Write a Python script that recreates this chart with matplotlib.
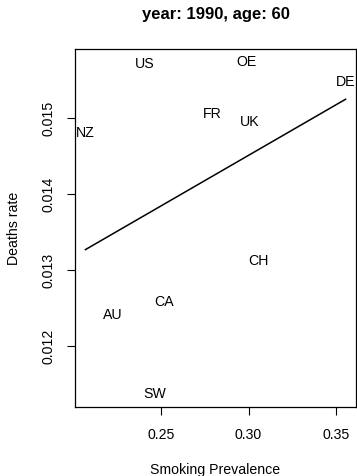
import numpy as np
import matplotlib
matplotlib.use("Agg")
import matplotlib.pyplot as plt

plt.rcParams['font.family'] = ['Liberation Sans', 'DejaVu Sans']

# country codes and their values
countries = ["US", "OE", "DE", "FR", "UK", "NZ", "CH", "CA", "AU", "SW"]
smoking = [0.2407, 0.2989, 0.3553, 0.2791, 0.3006, 0.2071, 0.3055, 0.2519, 0.2226, 0.2464]
deaths = [0.015714, 0.015737, 0.015474, 0.015053, 0.014947, 0.014803,
          0.013128, 0.012579, 0.012412, 0.011375]

x = np.array(smoking)
y = np.array(deaths)

fig = plt.figure(figsize=(3.57, 4.76), dpi=100)
ax = fig.add_axes([75 / 357, 1 - 407 / 476, 281 / 357, 358 / 476])

fs = 10.2
for name, xi, yi in zip(countries, x, y):
    ax.text(xi, yi, name, ha="center", va="center", fontsize=fs)

# least squares line across the data range
slope, icept = np.polyfit(x, y, 1)
xs = np.array([x.min(), x.max()])
ax.plot(xs, icept + slope * xs, color="black", lw=1.1)

# R style 4% padding
dx = (x.max() - x.min()) * 0.04
dy = (y.max() - y.min()) * 0.04
ax.set_xlim(x.min() - dx, x.max() + dx)
ax.set_ylim(y.min() - dy, y.max() + dy)

ax.set_xticks([0.25, 0.30, 0.35])
ax.set_xticklabels(["0.25", "0.30", "0.35"])
ax.set_yticks([0.012, 0.013, 0.014, 0.015])
ax.set_yticklabels(["0.012", "0.013", "0.014", "0.015"], rotation=90, va="center")
ax.tick_params(labelsize=fs, length=6, width=0.8)
ax.tick_params(axis="x", pad=9)
ax.tick_params(axis="y", pad=8)
for s in ax.spines.values():
    s.set_linewidth(0.9)

ax.set_xlabel("Smoking Prevalence", fontsize=fs, labelpad=15)
ax.set_ylabel("Deaths rate", fontsize=fs, labelpad=15)
fig.text(216 / 357, 1 - 15 / 476, "year: 1990, age: 60", ha="center", va="center",
         fontsize=12, fontweight="bold")

fig.savefig("out.png", dpi=100)
